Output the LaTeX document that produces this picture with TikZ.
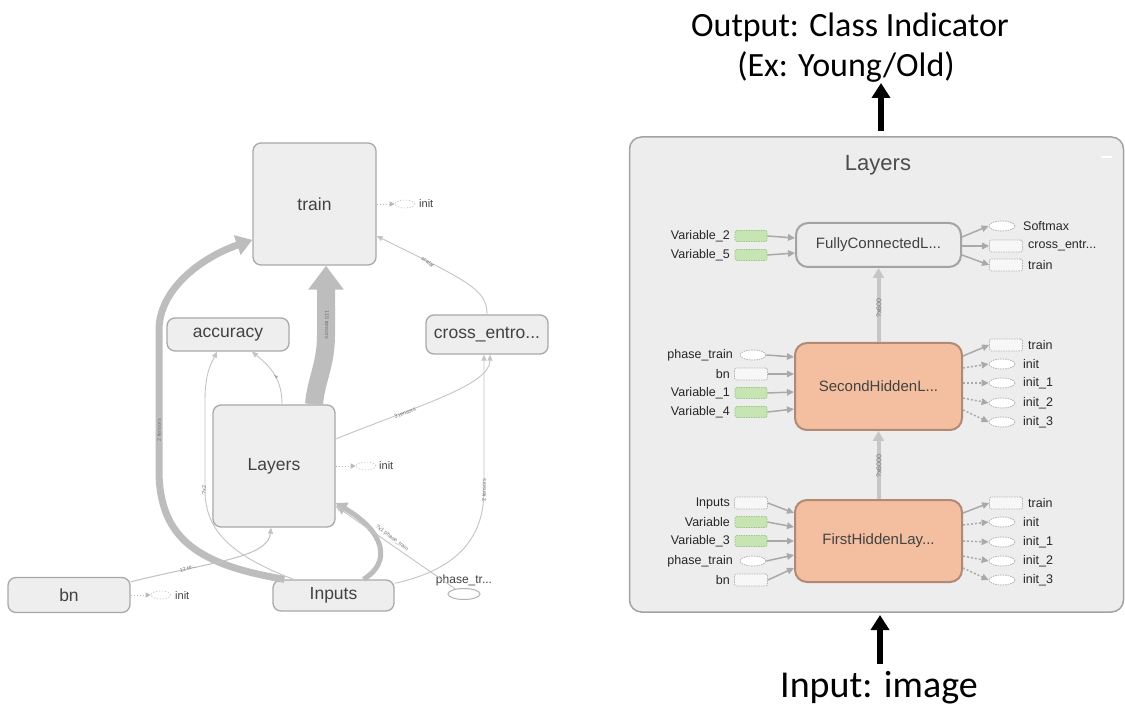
\documentclass[tikz,border=0pt]{standalone}
\usepackage{fontspec}
\setmainfont{Liberation Sans}
\newfontfamily\calib{Carlito}
\usetikzlibrary{arrows.meta,shapes.geometric}
\definecolor{gfill}{HTML}{EEEEEE}
\definecolor{gborder}{HTML}{A9A9A9}
\definecolor{gtext}{HTML}{424242}
\definecolor{edgec}{HTML}{C4C4C4}
\definecolor{bandc}{HTML}{BDBDBD}
\definecolor{pfill}{HTML}{EDEDED}
\definecolor{pborder}{HTML}{A3A3A3}
\definecolor{salmon}{HTML}{F4BFA1}
\definecolor{salmonb}{HTML}{B08A74}
\definecolor{vgreen}{HTML}{C7E4B3}
\definecolor{vgreenb}{HTML}{9CC587}
\definecolor{dashb}{HTML}{B5B5B5}
\definecolor{rarrow}{HTML}{A9A9A9}
\tikzset{
  gbox/.style={draw=gborder, fill=gfill, line width=1.3pt, rounded corners=8pt, inner sep=0pt, text=gtext, font=\fontsize{17.5}{20}\selectfont},
  thinedge/.style={draw=edgec, line width=0.9pt, -{Triangle[length=6pt,width=5pt]}},
  bandedge/.style={draw=bandc},
  tinylbl/.style={font=\fontsize{5.5}{6}\selectfont, text=black!55, inner sep=0.5pt},
  initarr/.style={draw=gray!55, dash pattern=on 1.5pt off 1.5pt, line width=0.8pt, -{Triangle[length=5pt,width=5pt]}},
  initell/.style={ellipse, draw=gray!45, dash pattern=on 1.5pt off 1.5pt, line width=0.6pt, minimum width=20pt, minimum height=8pt, inner sep=0pt},
  initlbl/.style={font=\fontsize{11}{12}\selectfont, text=gtext, inner sep=0pt, anchor=west},
  rbox/.style={draw=pborder, fill=pfill, line width=2pt, rounded corners=12pt, inner sep=0pt, text=gtext, font=\fontsize{15}{17}\selectfont},
  hbox/.style={rbox, fill=salmon, draw=salmonb},
  vgr/.style={draw=vgreenb, fill=vgreen, dash pattern=on 1.5pt off 1pt, rounded corners=2pt, minimum width=32pt, minimum height=11pt, inner sep=0pt, line width=0.8pt},
  vdsh/.style={draw=dashb, fill=gray!6, dash pattern=on 1.5pt off 1pt, rounded corners=2pt, minimum width=33pt, minimum height=12pt, inner sep=0pt, line width=0.8pt},
  vell/.style={ellipse, draw=dashb, fill=white, dash pattern=on 1.5pt off 1pt, minimum width=26pt, minimum height=10pt, inner sep=0pt, line width=0.8pt},
  slbl/.style={font=\fontsize{12.5}{14}\selectfont, text=black!85, inner sep=0pt},
  rarr/.style={draw=rarrow, line width=1.5pt, -{Triangle[length=7pt,width=6.5pt]}},
  rdarr/.style={rarr, dash pattern=on 2pt off 2pt},
  redge/.style={draw=gray!45, line width=4pt, -{Triangle[length=10pt,width=11pt]}},
  bigarrow/.style={draw=black, line width=5.5pt, -{Triangle[length=15pt,width=18pt]}},
  annot/.style={font=\calib\fontsize{34}{40}\selectfont, inner sep=0pt, anchor=base}
}
\begin{document}
\begin{tikzpicture}[x=1pt,y=-1pt]
\path[use as bounding box, fill=white] (0,0) rectangle (1125,708);

% ---------------- left graph ----------------
\node[gbox, minimum width=123pt, minimum height=122pt] (train) at (314.5,204) {train};
\node[gbox, minimum width=122pt, minimum height=33pt] (acc) at (228,334.5) {accuracy};
\node[gbox, minimum width=122pt, minimum height=39pt] (xent) at (487,334.5) {cross\_entro...};
\node[gbox, minimum width=122pt, minimum height=122pt] (lay) at (274,466) {Layers};
\node[gbox, minimum width=122pt, minimum height=35pt] (bn) at (69,595) {bn};
\node[gbox, minimum width=121pt, minimum height=31pt] (inp) at (333.5,595.5) {Inputs};
\node[ellipse, draw=gray!60, line width=1pt, minimum width=32pt, minimum height=11pt, inner sep=0pt] (ph) at (464,594) {};
\node[font=\fontsize{12}{13}\selectfont, text=gtext, inner sep=0pt] (phl) at (464,580) {phase\_tr...};

% init helpers
\node[initell] (tinit) at (405,204) {};
\node[initlbl] (tinitl) at (419,204) {init};
\draw[initarr] (train.east) -- (tinit.west);
\node[initell] (linit) at (366,466) {};
\node[initlbl] (linitl) at (379,466) {init};
\draw[initarr] (lay.east) -- (linit.west);
\node[initell] (binit) at (161,595) {};
\node[initlbl] (binitl) at (175,596) {init};
\draw[initarr] (bn.east) -- (binit.west);

% thick band Inputs -> train
\draw[bandedge, line width=7pt, -{Triangle[length=16pt,width=20pt]}]
  ([xshift=12pt]inp.north west) .. controls (200,565) and (159,540) .. (159,470)
  -- (159,330) .. controls (159,290) and (200,258) .. (train.210);
\node[tinylbl, rotate=90] (l2t) at (159,430) {2 tensors};

% huge band Layers -> train
\draw[bandedge, line width=18pt, -{Triangle[length=24pt,width=34pt]}]
  ([xshift=40pt]lay.north) .. controls (316,380) and (326,365) .. (326,335) -- ([xshift=11.5pt]train.south);
\node[tinylbl, rotate=-90] (l115) at (327,325) {115 tensors};

% Layers -> accuracy
\draw[thinedge] ([xshift=8pt]lay.north) .. controls (282,380) and (272,368) .. ([xshift=24pt]acc.south);
\node[tinylbl, rotate=60] (l4) at (276,377) {4};

% Inputs -> accuracy
\draw[thinedge] ([xshift=-40pt]inp.north) .. controls (230,555) and (205,530) .. (205,490)
  -- (205,400) .. controls (205,372) and (212,362) .. ([xshift=-11pt]acc.south);
\node[tinylbl, rotate=90] (lx2) at (204,490) {?x2};

% bn -> Layers
\draw[thinedge, line width=1.1pt] ([yshift=-5pt]bn.north east) .. controls (210,562) and (268,558) .. ([xshift=-3pt]lay.south);
\node[tinylbl, rotate=15] (l12) at (188,568) {12 te...};

% Inputs -> Layers (band)
\draw[bandedge, line width=5pt, -{Triangle[length=11pt,width=13pt]}]
  ([xshift=30pt]inp.north) .. controls (392,562) and (385,532) .. ([yshift=-37pt]lay.east);
% phase_tr -> Layers
\draw[thinedge] (ph.150) -- ([yshift=-40pt]lay.east);
\node[tinylbl, rotate=-37] (lph) at (392,538) {?x1 phase\_train};

% Layers -> cross_entro
\draw[thinedge] ([yshift=27pt]lay.east) .. controls (420,405) and (490,385) .. ([xshift=3pt]xent.south);
\node[tinylbl, rotate=21] (l3) at (405,413) {3 tensors};

% Inputs -> cross_entro
\draw[thinedge] ([yshift=-4pt]inp.north east) .. controls (455,570) and (484,540) .. (484,490) -- ([xshift=-3pt]xent.south);
\node[tinylbl, rotate=90] (l2c) at (484,490) {2 tensors};

% cross_entro -> train
\draw[thinedge] (xent.north) .. controls (487,290) and (470,282) .. ([yshift=-32pt]train.east);
\node[tinylbl, rotate=-37] (lsc) at (428,262) {scalar};

% ---------------- right panel ----------------
\node[draw=pborder, fill=pfill, line width=1.5pt, rounded corners=12pt, minimum width=494pt, minimum height=475pt, inner sep=0pt] (panel) at (876.5,374.5) {};
\node[font=\fontsize{22}{24}\selectfont, text=black!70, inner sep=0pt] (ptitle) at (878,165) {Layers};
\coordinate (mA) at (1101,157);
\coordinate (mB) at (1112,157);
\draw[white, line width=1.5pt] (mA) -- (mB);

\node[rbox, minimum width=165pt, minimum height=44pt] (fc) at (878.5,245) {FullyConnectedL...};
\node[hbox, minimum width=167pt, minimum height=87pt] (sh) at (878.5,386.5) {SecondHiddenL...};
\node[hbox, minimum width=167pt, minimum height=82pt] (fh) at (878.5,541) {FirstHiddenLay...};

\draw[redge] (fh.north) -- (sh.south);
\draw[redge] (sh.north) -- (fc.south);
\node[tinylbl, rotate=90, font=\fontsize{7}{8}\selectfont, text=black!55] (lx6000) at (879,466) {?x6000};
\node[tinylbl, rotate=90, font=\fontsize{7}{8}\selectfont, text=black!55] (lx600) at (879,308) {?x600};

% FC inputs
\node[vgr] (fv2) at (751,236) {};
\node[slbl, anchor=east] (fv2l) at (730,236) {Variable\_2};
\node[vgr] (fv5) at (751,255) {};
\node[slbl, anchor=east] (fv5l) at (730,255) {Variable\_5};
\draw[rarr] (fv2.east) -- ([yshift=7pt]fc.west);
\draw[rarr] (fv5.east) -- ([yshift=-8pt]fc.west);
% FC outputs
\node[vell] (fsm) at (1002,226) {};
\node[slbl, anchor=west] (fsml) at (1023,226) {Softmax};
\node[vdsh] (fce) at (1006,246) {};
\node[slbl, anchor=west] (fcel) at (1028,246) {cross\_entr...};
\node[vdsh] (ftr) at (1006,265) {};
\node[slbl, anchor=west] (ftrl) at (1028,265) {train};
\draw[rarr] ([yshift=8pt]fc.east) -- (fsm.west);
\draw[rarr] ([yshift=-1pt]fc.east) -- (fce.west);
\draw[rarr] ([yshift=-10pt]fc.east) -- (ftr.west);

% Second inputs
\node[vell] (sph) at (753,355) {};
\node[slbl, anchor=east] (sphl) at (733,355) {phase\_train};
\node[vdsh] (sbn) at (751,374) {};
\node[slbl, anchor=east] (sbnl) at (730,374) {bn};
\node[vgr] (sv1) at (751,393) {};
\node[slbl, anchor=east] (sv1l) at (730,393) {Variable\_1};
\node[vgr] (sv4) at (751,412) {};
\node[slbl, anchor=east] (sv4l) at (730,412) {Variable\_4};
\draw[rarr] (sph.east) -- ([yshift=29.5pt]sh.west);
\draw[rarr] (sbn.east) -- ([yshift=12.5pt]sh.west);
\draw[rarr] (sv1.east) -- ([yshift=-5.5pt]sh.west);
\draw[rarr] (sv4.east) -- ([yshift=-22.5pt]sh.west);
% Second outputs
\node[vdsh] (str) at (1006,345) {};
\node[slbl, anchor=west] (strl) at (1028,345) {train};
\node[vell] (si0) at (1002,364) {};
\node[slbl, anchor=west] (si0l) at (1023,364) {init};
\node[vell] (si1) at (1002,383) {};
\node[slbl, anchor=west] (si1l) at (1023,383) {init\_1};
\node[vell] (si2) at (1002,403) {};
\node[slbl, anchor=west] (si2l) at (1023,403) {init\_2};
\node[vell] (si3) at (1002,422) {};
\node[slbl, anchor=west] (si3l) at (1023,422) {init\_3};
\draw[rarr] ([yshift=30.5pt]sh.east) -- (str.west);
\draw[rdarr] ([yshift=18.5pt]sh.east) -- (si0.west);
\draw[rdarr] ([yshift=3.5pt]sh.east) -- (si1.west);
\draw[rdarr] ([yshift=-11.5pt]sh.east) -- (si2.west);
\draw[rdarr] ([yshift=-23.5pt]sh.east) -- (si3.west);

% First inputs
\node[vdsh] (fin) at (751,503) {};
\node[slbl, anchor=east] (finl) at (730,503) {Inputs};
\node[vgr] (fva) at (751,522) {};
\node[slbl, anchor=east] (fval) at (730,522) {Variable};
\node[vgr] (fv3) at (751,541) {};
\node[slbl, anchor=east] (fv3l) at (730,541) {Variable\_3};
\node[vell] (fph) at (753,561) {};
\node[slbl, anchor=east] (fphl) at (733,561) {phase\_train};
\node[vdsh] (fbn) at (751,580) {};
\node[slbl, anchor=east] (fbnl) at (730,580) {bn};
\draw[rarr] (fin.east) -- ([yshift=28pt]fh.west);
\draw[rarr] (fva.east) -- ([yshift=14pt]fh.west);
\draw[rarr] (fv3.east) -- (fh.west);
\draw[rarr] (fph.east) -- ([yshift=-14pt]fh.west);
\draw[rarr] (fbn.east) -- ([yshift=-27pt]fh.west);
% First outputs
\node[vdsh] (ftr2) at (1006,503) {};
\node[slbl, anchor=west] (ftr2l) at (1028,503) {train};
\node[vell] (fi0) at (1002,522) {};
\node[slbl, anchor=west] (fi0l) at (1023,522) {init};
\node[vell] (fi1) at (1002,542) {};
\node[slbl, anchor=west] (fi1l) at (1023,542) {init\_1};
\node[vell] (fi2) at (1002,561) {};
\node[slbl, anchor=west] (fi2l) at (1023,561) {init\_2};
\node[vell] (fi3) at (1002,580) {};
\node[slbl, anchor=west] (fi3l) at (1023,580) {init\_3};
\draw[rarr] ([yshift=28pt]fh.east) -- (ftr2.west);
\draw[rdarr] ([yshift=16pt]fh.east) -- (fi0.west);
\draw[rdarr] (fh.east) -- (fi1.west);
\draw[rdarr] ([yshift=-15pt]fh.east) -- (fi2.west);
\draw[rdarr] ([yshift=-27pt]fh.east) -- (fi3.west);

% ---------------- annotations ----------------
\node[annot] (out1) at (850,37) {Output: Class Indicator};
\node[annot] (out2) at (846,77) {(Ex: Young/Old)};
\coordinate (oaS) at (881,131);
\coordinate (oaT) at (881,83);
\draw[bigarrow] (oaS) -- (oaT);
\node[annot, font=\calib\fontsize{38}{44}\selectfont] (in1) at (879,697) {Input: image};
\coordinate (iaS) at (880,664);
\coordinate (iaT) at (880,615);
\draw[bigarrow] (iaS) -- (iaT);
\end{tikzpicture}
\end{document}
